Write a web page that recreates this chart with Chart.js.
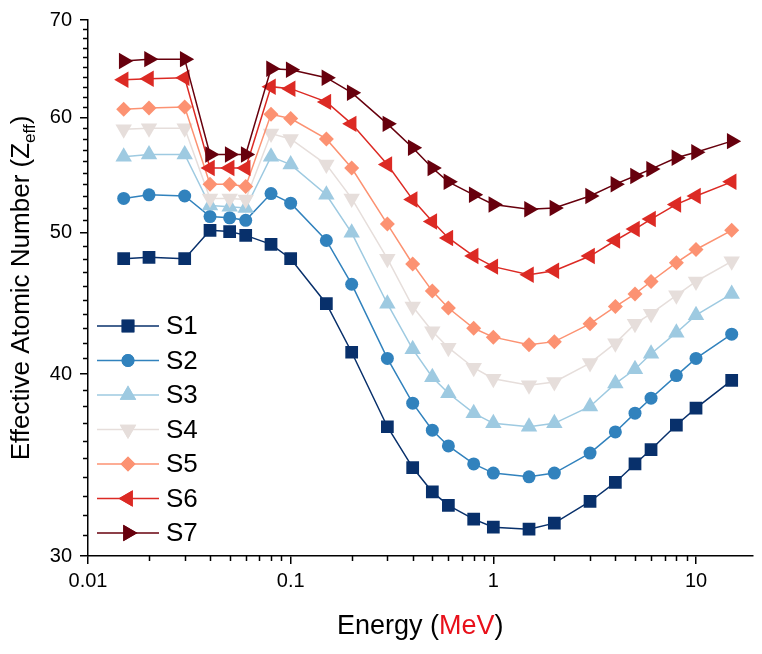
<!DOCTYPE html>
<html>
<head>
<meta charset="utf-8">
<script src="https://cdn.jsdelivr.net/npm/chart.js@4.4.1/dist/chart.umd.min.js"></script>
<style>
  body { margin: 0; background: #fff; }
</style>
</head>
<body>
<canvas id="zeff" width="762" height="654"></canvas>
<script>
// photon energies (MeV)
const energies = [0.015, 0.02, 0.03, 0.04, 0.05, 0.06, 0.08, 0.1, 0.15, 0.2, 0.3, 0.4, 0.5,
    0.6, 0.8, 1, 1.5, 2, 3, 4, 5, 6, 8, 10, 15]

const s1 = [48.0, 48.1, 48.0, 50.2, 50.1, 49.8, 49.1, 48.0, 44.7, 41.4, 36.8, 34.5, 33.2,
    32.5, 31.8, 31.4, 31.3, 31.6, 32.7, 33.7, 34.7, 35.5, 36.9, 37.9, 39.6]
const s2 = [52.8, 53.1, 53.0, 51.3, 51.2, 51.0, 53.2, 52.4, 49.4, 46.1, 41.0, 38.2, 36.6,
    35.7, 34.7, 34.2, 34.0, 34.2, 35.3, 36.5, 37.6, 38.5, 39.9, 41.0, 42.6]
const s3 = [56.4, 56.6, 56.6, 52.2, 52.1, 52.0, 56.4, 55.7, 53.1, 50.0, 44.7, 41.6, 39.8,
    38.8, 37.6, 37.0, 36.8, 37.0, 38.0, 39.4, 40.3, 41.3, 42.7, 43.9, 45.4]
const s4 = [58.9, 59.0, 59.0, 52.8, 52.8, 52.7, 58.5, 58.0, 55.7, 52.8, 48.0, 44.5, 42.8,
    41.7, 40.4, 39.7, 39.3, 39.5, 40.7, 42.0, 43.3, 44.0, 45.3, 46.3, 47.8]
const s5 = [60.8, 60.9, 61.0, 54.0, 54.0, 53.8, 60.3, 59.9, 58.0, 55.4, 50.7, 47.6, 45.6,
    44.4, 43.0, 42.4, 41.9, 42.1, 43.3, 44.5, 45.4, 46.3, 47.7, 48.7, 50.2]
const s6 = [63.7, 63.8, 63.9, 55.4, 55.4, 55.4, 63.0, 62.8, 61.5, 59.4, 55.7, 52.7, 50.9,
    49.6, 48.2, 47.4, 46.8, 47.1, 48.2, 49.4, 50.3, 51.1, 52.3, 53.0, 54.2]
const s7 = [65.6, 65.8, 65.8, 56.6, 56.6, 56.6, 64.8, 64.7, 63.9, 62.4, 59.4, 57.2, 55.4,
    54.2, 53.1, 52.3, 51.9, 52.0, 53.0, 54.0, 54.7, 55.3, 56.3, 56.8, 57.8]

const seriesNames = ['S1', 'S2', 'S3', 'S4', 'S5', 'S6', 'S7']
const seriesValues = [s1, s2, s3, s4, s5, s6, s7]

const xTicks = [0.01, 0.1, 1, 10]
const yTicks = [30, 40, 50, 60, 70]

// look of each series
const colors = ['#08306b', '#3182bd', '#9ecae1', '#e6dedb', '#fc9272', '#dc2a24', '#67000d']
const markers = [
    { style: 'rect', radius: 9, rotation: 0 },
    { style: 'circle', radius: 6.5, rotation: 0 },
    { style: 'triangle', radius: 9.5, rotation: 0 },
    { style: 'triangle', radius: 9.5, rotation: 180 },
    { style: 'rectRot', radius: 7.5, rotation: 0 },
    { style: 'triangle', radius: 9.5, rotation: 270 },
    { style: 'triangle', radius: 9.5, rotation: 90 }
]

const FONT = "'Liberation Sans', Arial, sans-serif"

const datasets = seriesNames.map((name, i) => ({
    label: name,
    data: energies.map((e, j) => ({ x: e, y: seriesValues[i][j] })),
    borderColor: colors[i],
    backgroundColor: colors[i],
    borderWidth: 1.5,
    pointStyle: markers[i].style,
    pointRadius: markers[i].radius,
    pointRotation: markers[i].rotation,
    pointBorderWidth: 0,
    tension: 0,
    order: seriesNames.length - i
}))

const drawMarker = (ctx, m, color, x, y) => {
    ctx.save()
    ctx.fillStyle = color
    ctx.strokeStyle = color
    Chart.helpers.drawPoint(ctx, {
        pointStyle: m.style,
        radius: m.radius,
        rotation: m.rotation,
        borderWidth: 0
    }, x, y)
    ctx.fill()
    ctx.restore()
}

const decorations = {
    id: 'decorations',
    afterDraw(chart) {
        const { ctx, chartArea, scales } = chart
        const xs = scales.x
        const ys = scales.y

        // minor ticks
        ctx.save()
        ctx.strokeStyle = '#000'
        ctx.lineWidth = 1.5
        ctx.beginPath()
        xTicks.forEach(d => {
            for (let k = 2; k <= 9; k++) {
                const v = d * k
                if (v > xs.max) continue
                const px = Math.round(xs.getPixelForValue(v)) + 0.5
                ctx.moveTo(px, chartArea.bottom)
                ctx.lineTo(px, chartArea.bottom + 5)
            }
        })
        for (let v = 31; v < 70; v++) {
            if (v % 10 === 0) continue
            const py = Math.round(ys.getPixelForValue(v)) + 0.5
            ctx.moveTo(chartArea.left, py)
            ctx.lineTo(chartArea.left - 5, py)
        }
        ctx.stroke()
        ctx.restore()

        // y title with subscript
        ctx.save()
        ctx.translate(29, (chartArea.top + chartArea.bottom) / 2)
        ctx.rotate(-Math.PI / 2)
        ctx.fillStyle = '#000'
        ctx.textBaseline = 'alphabetic'
        const main = 'Effective Atomic Number (Z'
        ctx.font = '26px ' + FONT
        const wMain = ctx.measureText(main).width
        const wEnd = ctx.measureText(')').width
        ctx.font = '17px ' + FONT
        const wSub = ctx.measureText('eff').width
        let tx = -(wMain + wSub + wEnd) / 2
        ctx.font = '26px ' + FONT
        ctx.fillText(main, tx, 0)
        tx += wMain
        ctx.font = '17px ' + FONT
        ctx.fillText('eff', tx, 6)
        tx += wSub
        ctx.font = '26px ' + FONT
        ctx.fillText(')', tx, 0)
        ctx.restore()

        // x title, unit in red
        ctx.save()
        ctx.font = '27px ' + FONT
        ctx.textBaseline = 'middle'
        const parts = [['Energy (', '#000'], ['MeV', '#e8101a'], [')', '#000']]
        const total = parts.reduce((s, p) => s + ctx.measureText(p[0]).width, 0)
        let x0 = (chartArea.left + chartArea.right) / 2 - total / 2
        parts.forEach(([t, c]) => {
            ctx.fillStyle = c
            ctx.fillText(t, x0, 627)
            x0 += ctx.measureText(t).width
        })
        ctx.restore()

        // legend, line with marker
        ctx.save()
        ctx.font = '26px ' + FONT
        ctx.textBaseline = 'middle'
        seriesNames.forEach((name, i) => {
            const ly = 326 + i * 34.5
            ctx.strokeStyle = colors[i]
            ctx.lineWidth = 1.5
            ctx.beginPath()
            ctx.moveTo(97, ly)
            ctx.lineTo(159, ly)
            ctx.stroke()
            drawMarker(ctx, markers[i], colors[i], 128, ly)
            ctx.fillStyle = '#000'
            ctx.fillText(name, 166, ly + 1)
        })
        ctx.restore()
    }
}

new Chart(document.getElementById('zeff'), {
    type: 'line',
    data: { datasets },
    options: {
        responsive: false,
        animation: false,
        layout: { padding: { top: 18, right: 6, left: 0, bottom: 0 } },
        plugins: {
            legend: { display: false },
            tooltip: { enabled: false }
        },
        scales: {
            x: {
                type: 'logarithmic',
                min: 0.01,
                max: 19,
                afterBuildTicks: s => { s.ticks = xTicks.map(v => ({ value: v })) },
                afterFit: s => { s.height = 98 },
                ticks: {
                    color: '#000',
                    font: { size: 20, family: FONT },
                    padding: 5,
                    autoSkip: false,
                    maxRotation: 0,
                    callback: v => String(v)
                },
                grid: { drawOnChartArea: false, tickLength: 8, color: '#000', lineWidth: 1.5 },
                border: { display: true, color: '#000', width: 1.5 }
            },
            y: {
                type: 'logarithmic',
                min: 30,
                max: 70,
                afterBuildTicks: s => { s.ticks = yTicks.map(v => ({ value: v })) },
                afterFit: s => { s.width = 88 },
                ticks: {
                    color: '#000',
                    font: { size: 20, family: FONT },
                    padding: 8,
                    autoSkip: false,
                    callback: v => String(v)
                },
                grid: { drawOnChartArea: false, tickLength: 8, color: '#000', lineWidth: 1.5 },
                border: { display: true, color: '#000', width: 1.5 }
            }
        }
    },
    plugins: [decorations]
})
</script>
</body>
</html>
